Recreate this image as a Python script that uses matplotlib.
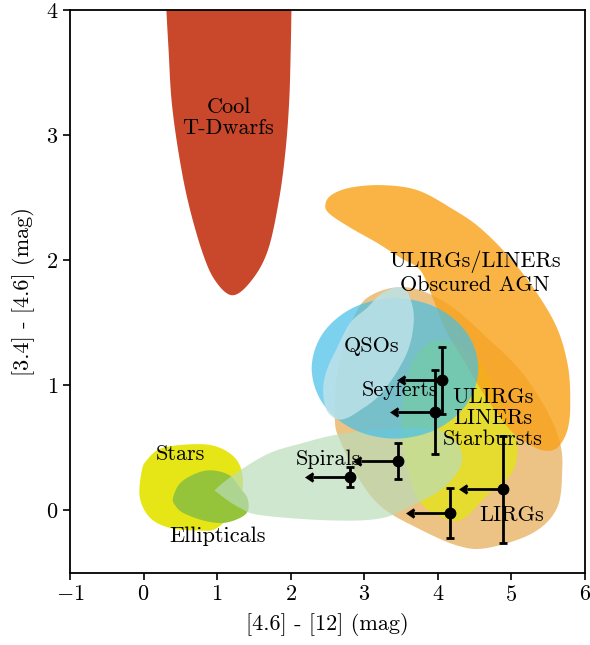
import numpy as np
import matplotlib
matplotlib.use('Agg')
import matplotlib.pyplot as plt
from matplotlib.patches import Polygon

plt.rcParams['font.family'] = 'serif'
plt.rcParams['font.serif'] = ['cmr10']
plt.rcParams['mathtext.fontset'] = 'cm'
plt.rcParams['axes.formatter.use_mathtext'] = True
plt.rcParams['axes.unicode_minus'] = True

# region outlines in colour space: ([4.6]-[12], [3.4]-[4.6])
tdwarf_x = [0.28, 0.31, 0.34, 0.38, 0.47, 0.60, 0.79, 0.97, 1.21, 1.47, 1.69, 1.84, 1.93, 1.98, 2.00, 2.01, 2.02, 1.16]
tdwarf_y = [4.40, 4.00, 3.68, 3.28, 2.88, 2.48, 2.08, 1.84, 1.72, 1.84, 2.08, 2.48, 2.88, 3.28, 3.68, 4.00, 4.40, 4.70]

lirg_x = [3.04, 3.39, 3.76, 4.21, 4.67, 5.12, 5.48, 5.66, 5.69, 5.62, 5.29, 4.67, 4.26, 3.72, 3.25, 2.94, 2.67, 2.60, 2.62, 2.74, 2.87]
lirg_y = [1.70, 1.78, 1.76, 1.62, 1.38, 1.12, 0.80, 0.54, 0.32, 0.02, -0.18, -0.30, -0.28, -0.14, 0.02, 0.24, 0.56, 0.72, 1.04, 1.36, 1.56]

starburst_x = [4.03, 4.30, 4.55, 4.71, 4.89, 5.05, 5.08, 4.98, 4.67, 4.30, 3.93, 3.72, 3.59, 3.51, 3.53, 3.65, 3.83]
starburst_y = [1.36, 1.31, 1.20, 1.04, 0.82, 0.60, 0.44, 0.28, 0.12, -0.08, -0.02, 0.10, 0.32, 0.60, 0.92, 1.18, 1.32]

agn_x = [2.47, 2.55, 2.81, 3.25, 3.72, 4.17, 4.61, 5.12, 5.57, 5.76, 5.80, 5.76, 5.62, 5.43, 5.21, 5.02, 4.80, 4.57, 4.35, 4.10, 3.93, 3.76, 3.49, 3.17, 2.81, 2.53]
agn_y = [2.44, 2.52, 2.58, 2.60, 2.56, 2.42, 2.24, 1.92, 1.52, 1.18, 0.86, 0.64, 0.50, 0.48, 0.54, 0.62, 0.78, 0.98, 1.20, 1.45, 1.70, 1.92, 2.02, 2.14, 2.26, 2.37]

qso_x = [4.549, 4.397, 3.983, 3.417, 2.851, 2.437, 2.285, 2.437, 2.851, 3.417, 3.983, 4.397]
qso_y = [1.135, 1.416, 1.621, 1.696, 1.621, 1.416, 1.135, 0.854, 0.649, 0.574, 0.649, 0.854]

seyfert_x = [3.53, 3.66, 3.66, 3.58, 3.39, 3.17, 2.94, 2.77, 2.63, 2.49, 2.44, 2.49, 2.63, 2.81, 3.04, 3.25]
seyfert_y = [1.78, 1.62, 1.44, 1.26, 1.06, 0.90, 0.80, 0.74, 0.73, 0.80, 0.96, 1.12, 1.30, 1.50, 1.62, 1.74]

spiral_x = [1.00, 1.31, 1.72, 2.17, 2.57, 3.04, 3.62, 4.03, 4.26, 4.33, 4.26, 4.03, 3.72, 3.25, 2.57, 1.62, 1.31, 1.01]
spiral_y = [0.18, 0.32, 0.46, 0.54, 0.60, 0.64, 0.66, 0.64, 0.54, 0.42, 0.30, 0.16, 0.06, -0.06, -0.08, -0.04, 0.02, 0.14]

star_x = [0.74, 1.04, 1.27, 1.35, 1.28, 1.00, 0.73, 0.36, 0.09, -0.05, -0.03, 0.04, 0.26]
star_y = [0.53, 0.50, 0.40, 0.24, 0.04, -0.14, -0.16, -0.14, -0.06, 0.10, 0.30, 0.40, 0.50]

elliptical_x = [0.40, 0.50, 0.73, 0.94, 1.17, 1.31, 1.41, 1.42, 1.31, 1.08, 0.81, 0.54, 0.43]
elliptical_y = [0.10, 0.22, 0.30, 0.32, 0.28, 0.18, 0.10, 0.00, -0.06, -0.10, -0.08, -0.02, 0.04]

# measured sources: x values are upper limits
src_x = [4.05, 3.96, 3.46, 2.80, 4.89, 4.17]
src_y = [1.04, 0.79, 0.395, 0.267, 0.168, -0.02]
src_yerr = [0.27, 0.335, 0.147, 0.083, 0.427, 0.20]
src_xlim = [0.5, 0.5, 0.5, 0.5, 0.5, 0.5]


def smooth_closed(xs, ys, n=24):
    """Closed Catmull-Rom curve through the outline points."""
    pts = np.column_stack([xs, ys])
    m = len(pts)
    t = np.linspace(0, 1, n, endpoint=False)[:, None]
    segs = []
    for i in range(m):
        p0, p1, p2, p3 = pts[(i - 1) % m], pts[i], pts[(i + 1) % m], pts[(i + 2) % m]
        seg = 0.5 * (2 * p1 + (-p0 + p2) * t
                     + (2 * p0 - 5 * p1 + 4 * p2 - p3) * t ** 2
                     + (-p0 + 3 * p1 - 3 * p2 + p3) * t ** 3)
        segs.append(seg)
    return np.vstack(segs)


fig = plt.figure(figsize=(5.9, 6.45), dpi=100)
ax = fig.add_axes([70 / 590, 1 - 573 / 645, 515 / 590, 563 / 645])

regions = [
    (tdwarf_x, tdwarf_y, '#c9472a', 1.0, 1),
    (star_x, star_y, '#e6e617', 1.0, 1),
    (elliptical_x, elliptical_y, '#95c43b', 1.0, 2),
    (lirg_x, lirg_y, '#ecc285', 1.0, 1),
    (starburst_x, starburst_y, '#e6dc30', 1.0, 2),
    (agn_x, agn_y, '#f8a217', 0.8, 3),
    (spiral_x, spiral_y, '#b9ddb9', 0.69, 4),
    (qso_x, qso_y, '#45c0e8', 0.7, 5),
    (seyfert_x, seyfert_y, '#bce2e9', 0.85, 6),
]
for xs, ys, color, alpha, z in regions:
    ax.add_patch(Polygon(smooth_closed(xs, ys), closed=True, facecolor=color,
                         edgecolor='none', alpha=alpha, zorder=z))

ax.errorbar(src_x, src_y, xerr=src_xlim, yerr=src_yerr, xuplims=True,
            fmt='o', color='k', ms=7.5, elinewidth=2, capsize=2.8, capthick=2,
            zorder=7)

fs = 16
labels = [
    (1.155, 3.14, 'Cool\nT-Dwarfs'),
    (4.505, 1.90, 'ULIRGs/LINERs\nObscured AGN'),
    (3.10, 1.31, 'QSOs'),
    (3.49, 0.96, 'Seyferts'),
    (4.75, 0.74, 'ULIRGs\nLINERs\nStarbursts'),
    (2.51, 0.41, 'Spirals'),
    (5.00, -0.04, 'LIRGs'),
    (0.50, 0.45, 'Stars'),
    (1.00, -0.21, 'Ellipticals'),
]
for x, y, s in labels:
    ax.text(x, y, s, ha='center', va='center', fontsize=fs, linespacing=1.1,
            zorder=8)

ax.set_xlim(-1, 6)
ax.set_ylim(-0.5, 4)
ax.set_xticks(range(-1, 7))
ax.set_yticks(range(0, 5))
ax.set_xlabel('[4.6] - [12] (mag)', fontsize=fs, labelpad=6)
ax.set_ylabel('[3.4] - [4.6] (mag)', fontsize=fs, labelpad=8)
ax.tick_params(direction='out', length=5, width=1.2, labelsize=fs,
               top=False, right=False)
for sp in ax.spines.values():
    sp.set_linewidth(1.3)

fig.savefig('out.png', dpi=100, facecolor='white')
